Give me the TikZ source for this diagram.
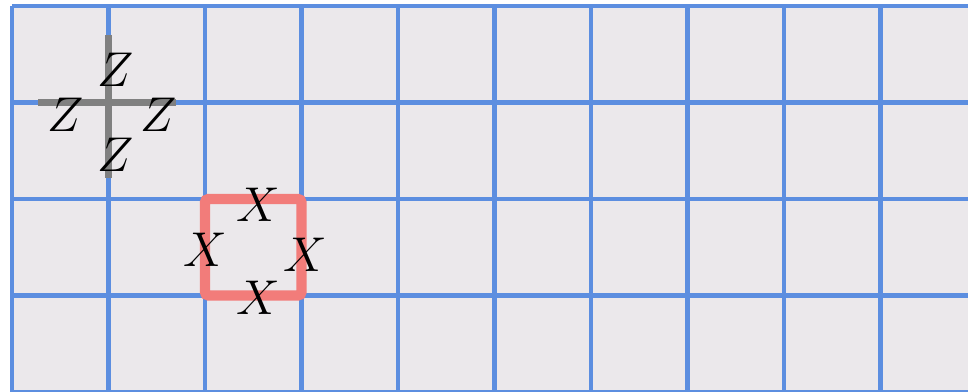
\documentclass[tikz,border=0pt]{standalone}
\definecolor{gridblue}{RGB}{92,142,224}
\definecolor{crossgray}{RGB}{128,128,128}
\definecolor{sqred}{RGB}{242,124,122}
\definecolor{bggray}{RGB}{235,232,235}
\begin{document}
\begin{tikzpicture}[x=1cm,y=1cm,
  gridline/.style={draw=gridblue, line width=1.2pt},
  crossbar/.style={draw=crossgray, line width=2.3pt},
  redsq/.style={draw=sqred, line width=3pt, rounded corners=1pt},
  lbl/.style={inner sep=0pt, font=\fontsize{15}{15}\selectfont}]
\useasboundingbox (-0.124,0.062) rectangle (9.907,-4.0);
\fill[white] (-0.124,0.062) rectangle (9.907,-4.0);
\begin{scope}
\clip (-0.124,0.062) rectangle (9.907,-4.0);
\fill[bggray] (0,0) rectangle (10.5,-4.2);
\foreach \i in {0,...,10} \draw[gridline] (\i,0) -- (\i,-4.2);
\foreach \j in {0,...,4} \draw[gridline] (0,-\j) -- (10.5,-\j);
\end{scope}
% gray cross
\coordinate (c) at (1,-1);
\coordinate (ct) at (1,-0.3);
\coordinate (cb) at (1,-1.78);
\coordinate (cl) at (0.27,-1);
\coordinate (cr) at (1.7,-1);
\draw[crossbar] (cl) -- (cr);
\draw[crossbar] (ct) -- (cb);
\node[lbl] (zt) at (1.07,-0.66) {$Z$};
\node[lbl] (zl) at (0.56,-1.13) {$Z$};
\node[lbl] (zr) at (1.52,-1.13) {$Z$};
\node[lbl] (zb) at (1.07,-1.54) {$Z$};
% red square
\draw[redsq] (2,-2) rectangle (3,-3);
\node[lbl] (xt) at (2.55,-2.06) {$X$};
\node[lbl] (xl) at (2.0,-2.53) {$X$};
\node[lbl] (xr) at (3.04,-2.58) {$X$};
\node[lbl] (xb) at (2.55,-3.02) {$X$};
\end{tikzpicture}
\end{document}
